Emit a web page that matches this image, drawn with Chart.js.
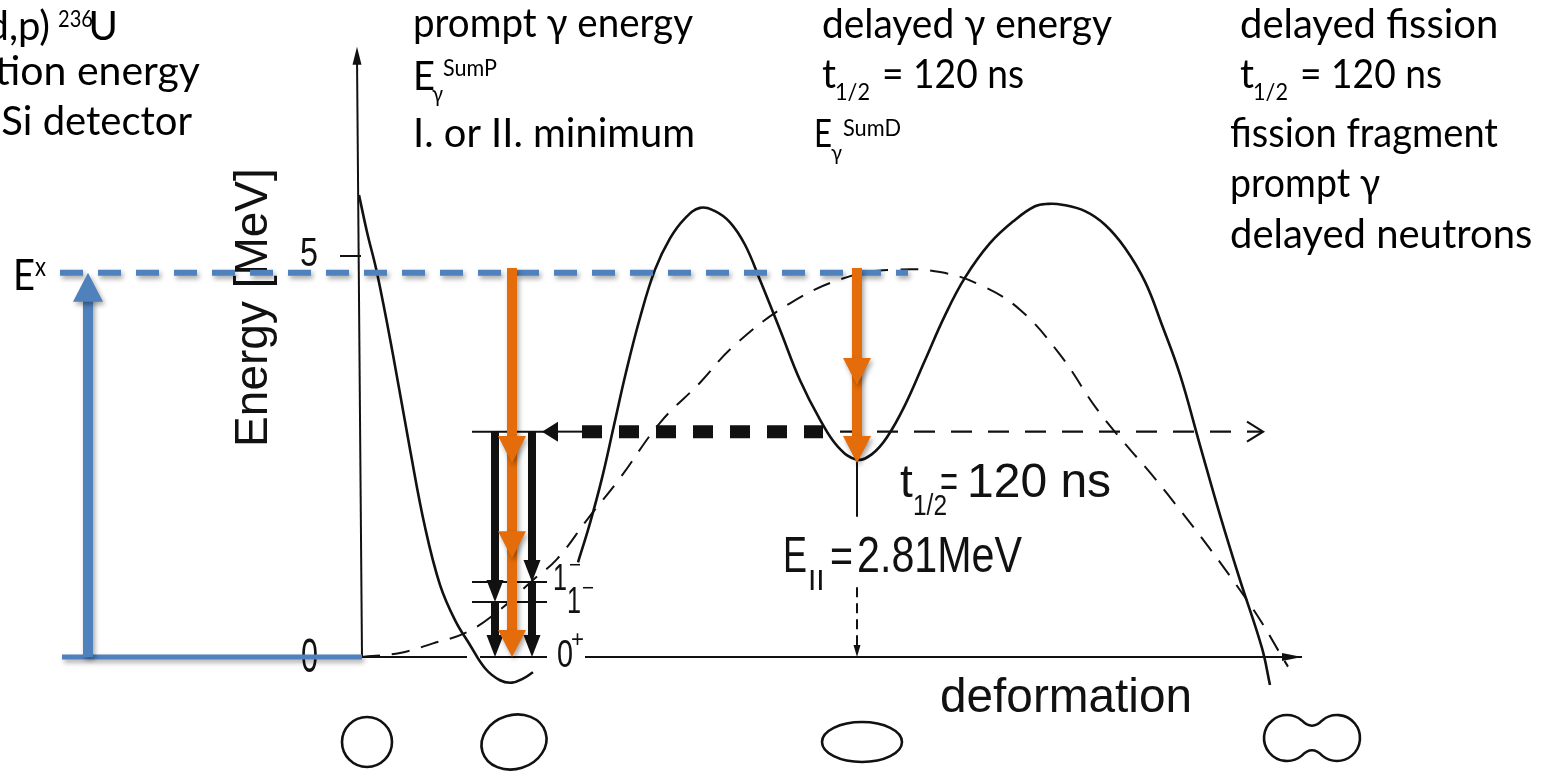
<!DOCTYPE html>
<html>
<head>
<meta charset="utf-8">
<script src="https://cdn.jsdelivr.net/npm/chart.js@4.4.1/dist/chart.umd.min.js"></script>
<style>
  html, body { margin: 0; padding: 0; background: #fff; }
  #wrap { width: 1546px; height: 775px; }
</style>
</head>
<body>
<div id="wrap"><canvas id="barrier" width="1546" height="775"></canvas></div>
<script>
// Double-humped fission barrier of 236U, deformation in arb. units, energy in MeV

const defRange = [-3.62, 11.84];
const energyRange = [-1.4713, 8.192];
const energyTicks = [0, 5];

const Ex = 4.79;          // excitation energy from the (d,p) reaction
const EII = 2.81;         // second minimum (shape isomer)
const gammaTop = 4.85;
const levels1minus = [0.935, 0.686];
const wellLevelSpan = [1.10, 1.85];

// potential energy: first well wall, then both humps
const wallI = [[-0.03,5.76],[0.05,5.30],[0.15,4.79],[0.31,3.77],[0.48,2.59],[0.63,1.62],[0.78,0.90],
  [0.93,0.46],[1.08,0.15],[1.23,-0.14],[1.38,-0.29],[1.50,-0.32],[1.61,-0.27],[1.71,-0.19]];
const humps = [[2.16,1.18],[2.28,1.67],[2.40,2.23],[2.52,2.89],[2.64,3.55],[2.78,4.23],[2.93,4.83],
  [3.08,5.22],[3.23,5.47],[3.38,5.60],[3.53,5.56],[3.68,5.42],[3.83,5.14],[3.98,4.70],[4.18,4.08],
  [4.38,3.45],[4.58,2.96],[4.76,2.62],[4.95,2.46],[5.10,2.53],[5.25,2.74],[5.43,3.14],[5.63,3.70],
  [5.83,4.26],[6.03,4.73],[6.28,5.16],[6.53,5.45],[6.73,5.62],[6.86,5.65],[7.00,5.64],[7.23,5.56],
  [7.43,5.39],[7.63,5.10],[7.83,4.68],[8.00,4.14],[8.18,3.52],[8.38,2.64],[8.58,1.77],[8.78,0.96],
  [9.00,0.11],[9.08,-0.35]];
// liquid drop part alone
const liquidDrop = [[0,0],[0.38,0.05],[0.71,0.17],[1.05,0.31],[1.38,0.59],[1.71,0.96],[1.95,1.22],
  [2.25,1.71],[2.58,2.23],[2.98,2.92],[3.38,3.42],[3.71,3.87],[4.28,4.41],[4.86,4.74],[5.34,4.83],
  [5.78,4.80],[6.18,4.64],[6.58,4.33],[6.98,3.77],[7.38,3.04],[8.05,2.04],[8.85,0.71],[9.26,-0.12]];

const xAxisSegs = [[0, 1.05], [1.18, 1.85], [2.23, 9.40]];
const yAxisTop = [-0.05, 7.61];

// E1 cascades in the first well: [deformation, from, to]
const promptCascade = [[1.33, EII, 0.686], [1.33, 0.686, 0], [1.70, EII, 0.935], [1.70, 0.935, 0]];
// orange gamma arrows: deformation and arrow tips
const gammaPrompt = { def: 1.50, tips: [2.42, 1.23, 0] };
const gammaDelayed = { def: 4.95, tips: [3.39, 2.42] };
// isomer decay paths
const backDecay = [1.80, 4.61];
const fissionPath = [4.78, 9.01];
const EIIline = 4.95;

// blue excitation marks
const exLine = [-3.02, 5.46];
const exArrowDef = -2.74;

// nuclear shapes under the axis: kind, deformation, energy
const shapes = [['sphere', 0.05, -1.06], ['prolate', 1.52, -1.06], ['ellipse', 5.00, -1.06], ['neck', 9.50, -1.01]];

const xy = pts => pts.map(([x, y]) => ({ x, y }));
const H = n => `${n}px Lato, "DejaVu Sans", sans-serif`;
const D = n => `${n}px "Liberation Sans", Arial, sans-serif`;

function put(ctx, text, x, y, font, maxW, align) {
  ctx.font = font;
  ctx.textAlign = align || 'left';
  ctx.textBaseline = 'alphabetic';
  const w = ctx.measureText(text).width;
  ctx.fillText(text, x, y, maxW ? Math.min(w, maxW) : w);
}

function tri(ctx, tx, ty, dx, dy, len, wid) {
  const bx = tx - dx * len, by = ty - dy * len;
  ctx.beginPath();
  ctx.moveTo(tx, ty);
  ctx.lineTo(bx - dy * wid / 2, by + dx * wid / 2);
  ctx.lineTo(bx + dy * wid / 2, by - dx * wid / 2);
  ctx.closePath();
  ctx.fill();
}

function line(ctx, x0, y0, x1, y1) {
  ctx.beginPath();
  ctx.moveTo(x0, y0);
  ctx.lineTo(x1, y1);
  ctx.stroke();
}

const annotate = {
  id: 'annotate',
  beforeDatasetsDraw(chart) {
    const { ctx, scales } = chart;
    const X = v => scales.x.getPixelForValue(v), Y = v => scales.y.getPixelForValue(v);
    ctx.save();
    ctx.strokeStyle = '#111';
    ctx.fillStyle = '#111';
    ctx.lineWidth = 2;
    // axes
    line(ctx, X(0), Y(0), X(yAxisTop[0]), Y(yAxisTop[1]) + 10);
    tri(ctx, X(yAxisTop[0]), Y(yAxisTop[1]), 0, -1, 18, 9);
    xAxisSegs.forEach(([a, b]) => line(ctx, X(a), Y(0), X(b), Y(0)));
    tri(ctx, X(xAxisSegs[2][1]), Y(0), 1, 0, 20, 8);
    line(ctx, X(-0.22), Y(5), X(-0.01), Y(5));
    // levels in the first well
    [EII, ...levels1minus].forEach(e => line(ctx, X(wellLevelSpan[0]), Y(e), X(wellLevelSpan[1]), Y(e)));
    ctx.restore();
  },
  afterDatasetsDraw(chart) {
    const { ctx, scales } = chart;
    const X = v => scales.x.getPixelForValue(v), Y = v => scales.y.getPixelForValue(v);
    ctx.save();
    ctx.strokeStyle = '#111';
    ctx.fillStyle = '#111';
    ctx.lineCap = 'butt';

    // prompt gamma cascade
    ctx.lineWidth = 8;
    promptCascade.forEach(([d, a, b]) => {
      line(ctx, X(d), Y(a), X(d), Y(b) - 16);
      tri(ctx, X(d), Y(b), 0, 1, 22, 17);
    });

    // back decay to the first well (thick dashes)
    ctx.lineWidth = 13;
    ctx.setLineDash([20, 17]);
    line(ctx, X(2.20), Y(EII), X(backDecay[1]), Y(EII));
    ctx.setLineDash([]);
    tri(ctx, X(backDecay[0]), Y(EII), -1, 0, 16, 20);
    ctx.lineWidth = 2;
    line(ctx, X(backDecay[0]) + 10, Y(EII), X(2.20), Y(EII));

    // fission through the second hump (thin dashes)
    ctx.lineWidth = 2.2;
    ctx.setLineDash([21, 16]);
    line(ctx, X(fissionPath[0]), Y(EII), X(fissionPath[1]) - 2, Y(EII));
    ctx.setLineDash([]);
    const fx = X(fissionPath[1]), fy = Y(EII);
    ctx.beginPath();
    ctx.moveTo(fx - 16, fy - 10); ctx.lineTo(fx, fy); ctx.lineTo(fx - 16, fy + 10);
    ctx.stroke();

    // E_II marker
    ctx.lineWidth = 2;
    line(ctx, X(EIIline), Y(EII), X(EIIline), Y(1.75));
    ctx.setLineDash([10, 6]);
    line(ctx, X(EIIline), Y(0.87), X(EIIline), Y(0) - 8);
    ctx.setLineDash([]);
    tri(ctx, X(EIIline), Y(0), 0, 1, 12, 7);

    // axis texts
    energyTicks.forEach(e => {
      put(ctx, String(e), X(-0.44), Y(e) + (e === 0 ? 15 : 10), D(e === 0 ? 48 : 40), e === 0 ? 17 : 18, 'right');
    });
    ctx.save();
    ctx.translate(X(-0.95), Y(2.62));
    ctx.rotate(-Math.PI / 2);
    put(ctx, 'Energy [MeV]', 0, 0, D(46), 284);
    ctx.restore();
    put(ctx, 'deformation', X(5.78), Y(-0.686), D(48), 252);

    // level labels
    put(ctx, '1', X(1.91), Y(0.835), D(36), 14);
    put(ctx, '\u2212', X(1.91) + 16, Y(0.835) - 18, D(22), 12);
    put(ctx, '1', X(2.05), Y(0.55), D(36), 14);
    put(ctx, '\u2212', X(2.05) + 15, Y(0.55) - 18, D(22), 12);
    put(ctx, '0', X(1.95), Y(-0.12), D(38), 16);
    put(ctx, '+', X(1.95) + 14, Y(-0.12) - 20, D(24), 13);

    // half-life and isomer energy
    const tx = X(5.38), ty = Y(1.995);
    put(ctx, 't', tx, ty, D(46), 13);
    put(ctx, '1/2', tx + 13, ty + 18, D(30), 34);
    put(ctx, '=', tx + 40, ty, D(46), 18);
    put(ctx, '120 ns', tx + 67, ty, D(48), 148);
    const ex = X(4.21), ey = Y(1.06);
    put(ctx, 'E', ex, ey, D(50), 24);
    put(ctx, 'II', ex + 25, ey + 18, D(30), 18);
    put(ctx, '=', ex + 47, ey, D(48), 23);
    put(ctx, '2.81MeV', ex + 74, ey, D(50), 165);

    // nuclear shapes
    ctx.lineWidth = 2.6;
    shapes.forEach(([kind, d, e]) => {
      const cx = X(d), cy = Y(e);
      ctx.beginPath();
      if (kind === 'sphere') ctx.arc(cx, cy, 25, 0, Math.PI * 2);
      else if (kind === 'prolate') ctx.ellipse(cx, cy, 33, 27, -0.3, 0, Math.PI * 2);
      else if (kind === 'ellipse') ctx.ellipse(cx, cy, 40, 20, 0, 0, Math.PI * 2);
      else {
        const a = 50 * Math.PI / 180;
        ctx.moveTo(cx - 10.2, cy - 17.6);
        ctx.quadraticCurveTo(cx, cy - 7, cx + 10.2, cy - 17.6);
        ctx.arc(cx + 25, cy, 23, Math.PI + a, Math.PI - a, false);
        ctx.quadraticCurveTo(cx, cy + 7, cx - 10.2, cy + 17.6);
        ctx.arc(cx - 25, cy, 23, a, -a, false);
        ctx.closePath();
      }
      ctx.stroke();
    });

    // excitation energy (blue)
    ctx.shadowColor = 'rgba(0,0,0,0.35)';
    ctx.shadowBlur = 5;
    ctx.shadowOffsetX = 2;
    ctx.shadowOffsetY = 3;
    ctx.strokeStyle = '#4F81BD';
    ctx.fillStyle = '#4F81BD';
    ctx.lineWidth = 6;
    ctx.setLineDash([23, 15]);
    line(ctx, X(exLine[0]), Y(Ex), X(exLine[1]), Y(Ex));
    ctx.setLineDash([]);
    ctx.lineWidth = 5;
    line(ctx, X(exLine[0]) + 2, Y(0), X(0), Y(0));
    ctx.lineWidth = 10;
    line(ctx, X(exArrowDef), Y(0), X(exArrowDef), Y(Ex) + 24);
    tri(ctx, X(exArrowDef), Y(Ex), 0, -1, 29, 30);

    // gamma arrows (orange)
    ctx.strokeStyle = '#E46C0A';
    ctx.fillStyle = '#E46C0A';
    [gammaPrompt, gammaDelayed].forEach(g => {
      const last = g.tips[g.tips.length - 1];
      ctx.lineWidth = 10;
      line(ctx, X(g.def), Y(gammaTop), X(g.def), Y(last) - 20);
      g.tips.forEach(t => tri(ctx, X(g.def), Y(t), 0, 1, 27, 28));
    });
    ctx.restore();

    // header notes
    ctx.save();
    ctx.fillStyle = '#000';
    put(ctx, 'E', 13, 290, H(42), 22);
    put(ctx, 'x', 35, 276, H(26), 11);

    put(ctx, 'U', 118, 40, H(40), 0, 'right');
    put(ctx, '236', 93, 27, H(24), 35, 'right');
    put(ctx, '(d,p)', 50, 40, H(40), 0, 'right');
    ctx.font = H(40);
    const wdp = ctx.measureText('(d,p)').width;
    put(ctx, 'U', 50 - wdp, 40, H(40), 0, 'right');
    put(ctx, 'excitation energy', 200, 85, H(41), 0, 'right');
    put(ctx, 'in Si detector', 192, 135, H(40), 0, 'right');

    put(ctx, 'prompt \u03b3 energy', 413, 37, H(40), 280);
    put(ctx, 'E', 413, 90, H(40), 22);
    put(ctx, '\u03b3', 432, 102, H(24), 11);
    put(ctx, 'SumP', 443, 76, H(24), 54);
    put(ctx, 'I. or II. minimum', 413, 147, H(40), 282);

    put(ctx, 'delayed \u03b3 energy', 822, 38, H(40), 290);
    put(ctx, 't', 822, 88, H(40), 14);
    put(ctx, '1/2', 835, 100, H(24), 35);
    put(ctx, '= 120 ns', 882, 88, H(40), 142);
    put(ctx, 'E', 814, 147, H(38), 18);
    put(ctx, '\u03b3', 831, 160, H(22), 11);
    put(ctx, 'SumD', 843, 136, H(24), 58);

    put(ctx, 'delayed fission', 1240, 38, H(40), 260);
    put(ctx, 't', 1240, 88, H(40), 14);
    put(ctx, '1/2', 1253, 100, H(24), 35);
    put(ctx, '= 120 ns', 1300, 88, H(40), 142);
    put(ctx, 'fission fragment', 1230, 147, H(40), 268);
    put(ctx, 'prompt \u03b3', 1230, 197, H(40), 150);
    put(ctx, 'delayed neutrons', 1230, 248, H(40), 305);
    ctx.restore();
  }
};

const curve = (pts, dash) => ({
  data: xy(pts),
  showLine: true,
  borderColor: '#111',
  borderWidth: dash ? 2 : 2.6,
  borderDash: dash || [],
  pointRadius: 0,
  tension: 0.4,
  fill: false
});

new Chart(document.getElementById('barrier'), {
  type: 'scatter',
  data: {
    datasets: [curve(wallI), curve(humps), curve(liquidDrop, [18, 12])]
  },
  options: {
    responsive: false,
    animation: false,
    events: [],
    layout: { padding: 0 },
    scales: {
      x: { type: 'linear', min: defRange[0], max: defRange[1], display: false },
      y: { type: 'linear', min: energyRange[0], max: energyRange[1], display: false }
    },
    plugins: { legend: { display: false }, tooltip: { enabled: false } }
  },
  plugins: [annotate]
});
</script>
</body>
</html>
